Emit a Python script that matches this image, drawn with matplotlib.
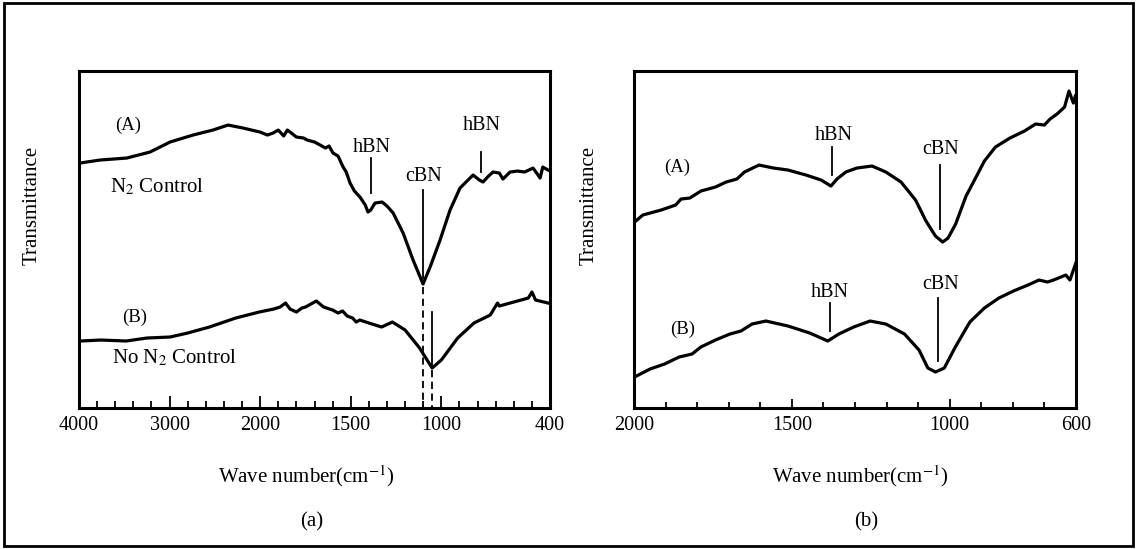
# FTIR spectra of BN films, (a) full range and (b) 2000-600 cm-1

import numpy as np
import matplotlib.pyplot as plt
from matplotlib.patches import Rectangle

plt.rcParams['font.family'] = ['Liberation Serif', 'DejaVu Serif']
plt.rcParams['mathtext.fontset'] = 'stix'

# (a) curve A, N2 control
a_wn_A = [3989, 3768, 3473, 3216, 2995, 2741, 2521, 2355, 2189, 2050, 2002, 1960, 1929, 1900,
          1870, 1850, 1835, 1800, 1760, 1741, 1700, 1669, 1640, 1620, 1598, 1570, 1550, 1542,
          1525, 1504, 1480, 1449, 1420, 1405, 1390, 1366, 1327, 1300, 1266, 1211, 1156, 1101,
          1062, 1007, 952, 897, 825, 790, 770, 745, 715, 680, 660, 621, 580, 540, 494, 470,
          455, 440, 411]
a_T_A = [245, 248, 250, 256, 266, 273, 278, 283, 280, 277, 276, 273, 275, 278,
         272, 278, 276, 271, 270, 268, 266, 263, 260, 262, 255, 252, 244, 241,
         236, 225, 217, 211, 203, 196, 198, 205, 206, 202, 195, 175, 148, 124,
         141, 168, 198, 220, 233, 228, 226, 231, 236, 235, 229, 236, 237, 236, 240, 234,
         230, 241, 238]

# (a) curve B, no N2 control
a_wn_B = [3980, 3760, 3480, 3250, 2995, 2800, 2560, 2270, 2010, 1925, 1890, 1860, 1835, 1800,
          1770, 1750, 1720, 1690, 1650, 1600, 1570, 1545, 1520, 1490, 1470, 1450, 1400,
          1330, 1270, 1200, 1120, 1051, 1000, 910, 820, 730, 690, 680, 600, 520, 500, 480, 411]
a_T_B = [67, 68, 67, 70, 71, 75, 81, 90, 96, 99, 101, 105, 99, 96,
         100, 101, 104, 107, 101, 98, 95, 97, 92, 90, 86, 88, 85,
         81, 86, 78, 60, 40, 48, 70, 85, 93, 105, 102, 106, 110, 116, 108, 105]

# (b) curve A
b_wn_A = [1998, 1972, 1914, 1868, 1851, 1823, 1788, 1742, 1708, 1674, 1650, 1604, 1558, 1512,
          1455, 1407, 1376, 1357, 1329, 1294, 1246, 1202, 1154, 1108, 1075, 1045, 1022, 1005,
          981, 948, 913, 890, 855, 809, 763, 728, 700, 682, 660, 636, 622, 608, 602]
b_T_A = [186, 193, 198, 203, 209, 210, 217, 221, 226, 229, 236, 243, 240, 238,
         233, 228, 222, 229, 236, 240, 242, 236, 226, 208, 187, 172, 166, 170,
         184, 212, 233, 247, 261, 270, 277, 284, 283, 289, 294, 301, 317, 305, 312]

# (b) curve B
b_wn_B = [1992, 1949, 1903, 1857, 1816, 1788, 1742, 1696, 1661, 1626, 1582, 1512, 1443, 1386,
          1351, 1304, 1252, 1202, 1143, 1097, 1069, 1045, 1017, 982, 936, 890, 844, 798,
          752, 717, 690, 671, 632, 619, 598]
b_T_B = [32, 39, 44, 51, 54, 61, 68, 74, 77, 84, 87, 82, 75, 67,
         74, 81, 87, 84, 74, 58, 40, 36, 40, 61, 86, 100, 110, 117,
         123, 128, 126, 128, 133, 128, 147]

a_labels = [4000, 3000, 2000, 1500, 1000, 400]
b_labels = [2000, 1500, 1000, 600]


def fwd(x):
    x = np.asarray(x, dtype=float)
    return np.where(x >= 2000, x, 2 * x - 2000)


def inv(y):
    y = np.asarray(y, dtype=float)
    return np.where(y >= 2000, y, (y + 2000) / 2)


fig = plt.figure(figsize=(11.4, 5.49), dpi=100)
fig.add_artist(Rectangle((0.0035, 0.0055), 0.990, 0.989, transform=fig.transFigure,
                         fill=False, lw=2.0, color='black'))

ax1 = fig.add_axes([0.0693, 0.2568, 0.4132, 0.6138])
ax2 = fig.add_axes([0.5561, 0.2568, 0.3877, 0.6138])

lw = 2.3
ax1.set_xscale('function', functions=(fwd, inv))
ax1.plot(a_wn_A, a_T_A, color='black', lw=lw)
ax1.plot(a_wn_B, a_T_B, color='black', lw=lw)
ax1.set_xlim(4000, 400)
ax1.set_ylim(0, 337)
ax1.set_xticks(a_labels)
ax1.set_xticks(list(range(3800, 2000, -200)) + list(range(1900, 400, -100)), minor=True)

ax2.plot(b_wn_A, b_T_A, color='black', lw=lw)
ax2.plot(b_wn_B, b_T_B, color='black', lw=lw)
ax2.set_xlim(2000, 600)
ax2.set_ylim(0, 337)
ax2.set_xticks(b_labels)
ax2.set_xticks(range(1900, 600, -100), minor=True)

for ax in (ax1, ax2):
    ax.set_yticks([])
    for s in ax.spines.values():
        s.set_linewidth(2.2)
    ax.tick_params(axis='x', which='both', direction='in', width=1.3, labelsize=14.5, pad=6)
    ax.set_ylabel('Transmittance', fontsize=15)
ax1.tick_params(axis='x', which='major', length=8.5)
ax1.tick_params(axis='x', which='minor', length=5)
ax2.tick_params(axis='x', which='major', length=6.8)
ax2.tick_params(axis='x', which='minor', length=4.3)
ax1.yaxis.set_label_coords(-0.08, 0.6)
ax2.yaxis.set_label_coords(-0.08, 0.6)

fs = 14.5
# panel (a) annotations
ax1.text(3459, 283, '(A)', fontsize=13.5, ha='center', va='center')
ax1.text(3658, 221, 'N$_2$ Control', fontsize=15, ha='left', va='center')
ax1.text(1383, 261, 'hBN', fontsize=fs, ha='center', va='center')
ax1.plot([1390, 1390], [250, 215], color='black', lw=1.3)
ax1.text(1100, 232, 'cBN', fontsize=fs, ha='center', va='center')
ax1.plot([1100, 1100], [218, 130], color='black', lw=1.3)
ax1.text(776, 283, 'hBN', fontsize=fs, ha='center', va='center')
ax1.plot([781, 781], [256, 236], color='black', lw=1.3)
ax1.plot([1100, 1100], [121, 0], color='black', lw=1.3, ls=(0, (4, 2.5)))
ax1.text(3382, 91, '(B)', fontsize=13.5, ha='center', va='center')
ax1.text(3636, 50, 'No N$_2$ Control', fontsize=15, ha='left', va='center')
ax1.plot([1051, 1051], [96, 42], color='black', lw=1.3)
ax1.plot([1051, 1051], [38, 0], color='black', lw=1.3, ls=(0, (4, 2.5)))

# panel (b) annotations
ax2.text(1864, 241, '(A)', fontsize=13.5, ha='center', va='center')
ax2.text(1368, 273, 'hBN', fontsize=fs, ha='center', va='center')
ax2.plot([1373, 1373], [261, 233], color='black', lw=1.3)
ax2.text(1028, 259, 'cBN', fontsize=fs, ha='center', va='center')
ax2.plot([1031, 1031], [243, 179], color='black', lw=1.3)
ax2.text(1845, 79, '(B)', fontsize=13.5, ha='center', va='center')
ax2.text(1379, 116, 'hBN', fontsize=fs, ha='center', va='center')
ax2.plot([1379, 1379], [105, 77], color='black', lw=1.3)
ax2.text(1028, 124, 'cBN', fontsize=fs, ha='center', va='center')
ax2.plot([1037, 1037], [110, 47], color='black', lw=1.3)

fig.text(0.269, 0.133, 'Wave number(cm$^{-1}$)', fontsize=15, ha='center', va='center')
fig.text(0.755, 0.133, 'Wave number(cm$^{-1}$)', fontsize=15, ha='center', va='center')
fig.text(0.273, 0.049, '(a)', fontsize=15, ha='center', va='center')
fig.text(0.760, 0.049, '(b)', fontsize=15, ha='center', va='center')

plt.savefig('out.png', dpi=100)
